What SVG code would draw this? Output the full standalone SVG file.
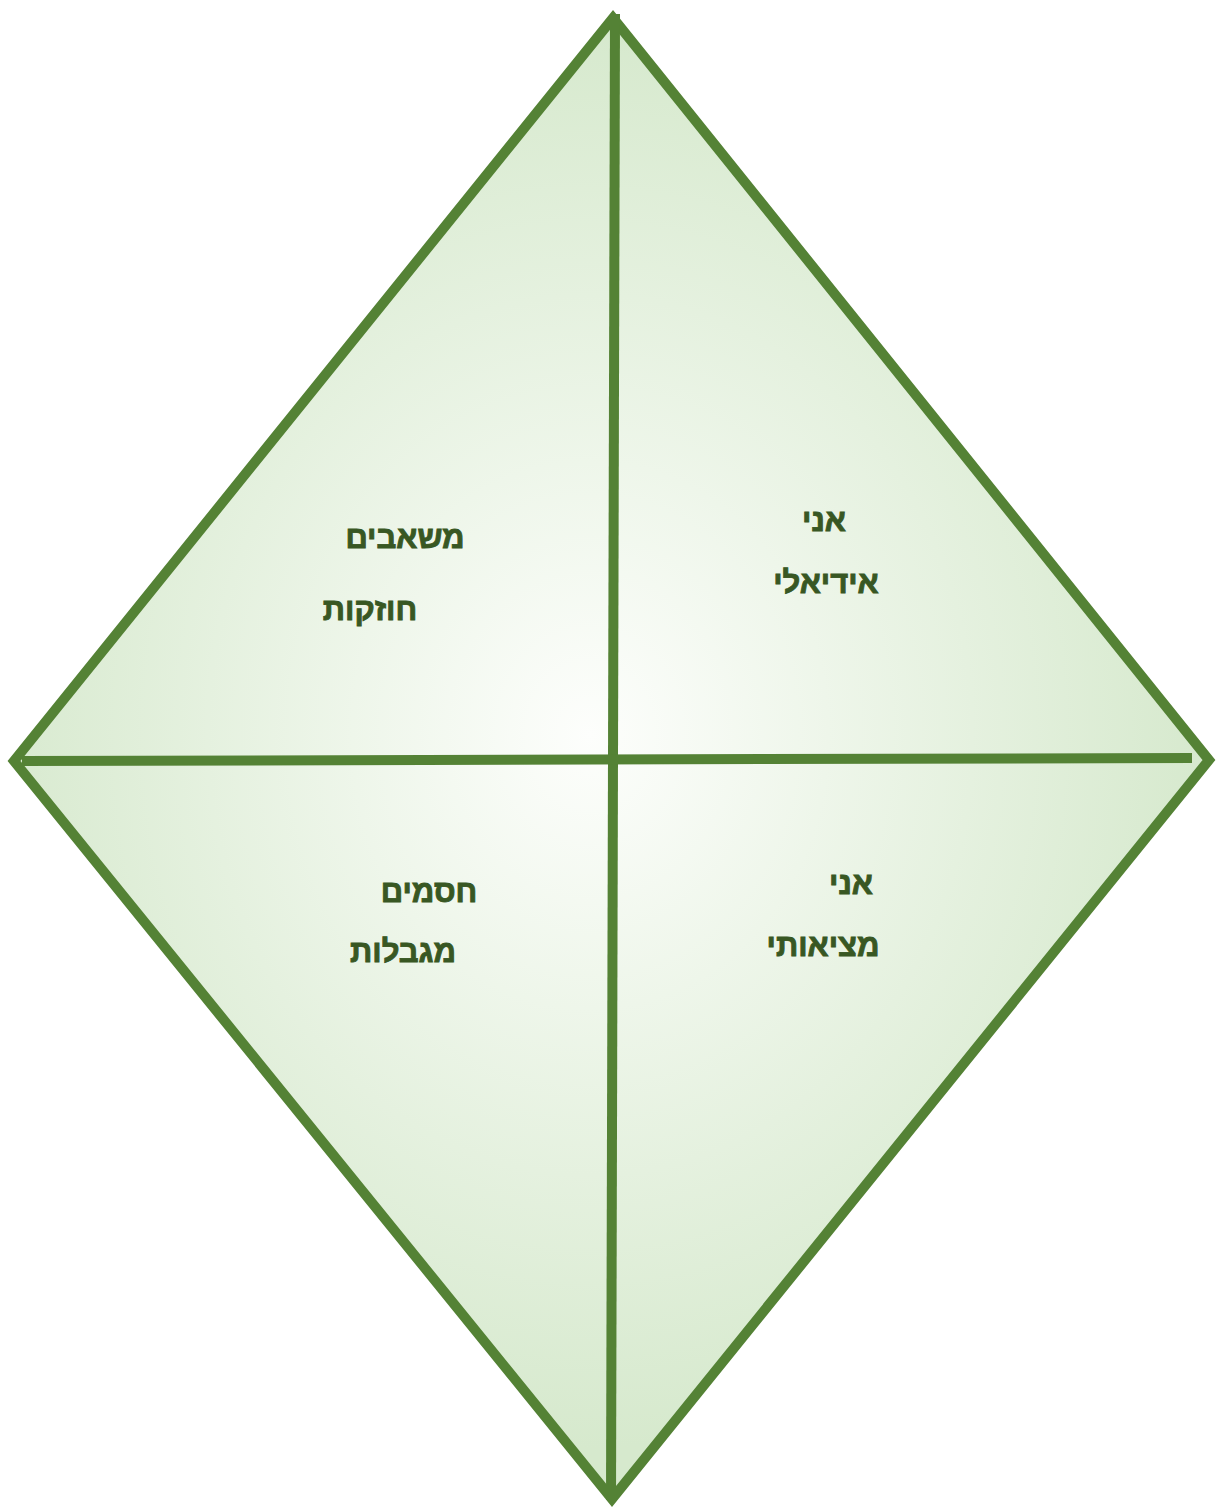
<svg xmlns="http://www.w3.org/2000/svg" width="1216" height="1508" viewBox="0 0 1216 1508">
<defs>
<radialGradient id="g" gradientUnits="userSpaceOnUse" cx="590" cy="735" r="620" gradientTransform="translate(590 735) scale(1 1.15) translate(-590 -735)">
<stop offset="0" stop-color="#fdfefc"/>
<stop offset="1" stop-color="#d6e9cd"/>
</radialGradient>
<style>
.ln{stroke:#548235;stroke-width:10;fill:none}
.dm{stroke:#548235;stroke-width:10;fill:url(#g);stroke-linejoin:miter}
.t{font-family:"Liberation Sans","DejaVu Sans",sans-serif;font-weight:bold;font-size:31px;fill:#385723;stroke:#385723;stroke-width:0.9;text-anchor:middle}
</style>
</defs>
<g id="diamond">
<polygon class="dm" points="613,18 1209,760 612,1499 14,761"/>
</g>
<g id="connectors">
<line class="ln" x1="615" y1="14" x2="611" y2="1500"/>
<line class="ln" x1="22" y1="761" x2="1192" y2="758"/>
</g>
<g id="q1"><text class="t" x="405" y="548">משאבים</text><text class="t" x="370" y="620">חוזקות</text></g>
<g id="q2"><text class="t" x="824" y="531">אני</text><text class="t" x="826" y="593">אידיאלי</text></g>
<g id="q3"><text class="t" x="429" y="902">חסמים</text><text class="t" x="403" y="962">מגבלות</text></g>
<g id="q4"><text class="t" x="851" y="894">אני</text><text class="t" x="823" y="956">מציאותי</text></g>
</svg>
